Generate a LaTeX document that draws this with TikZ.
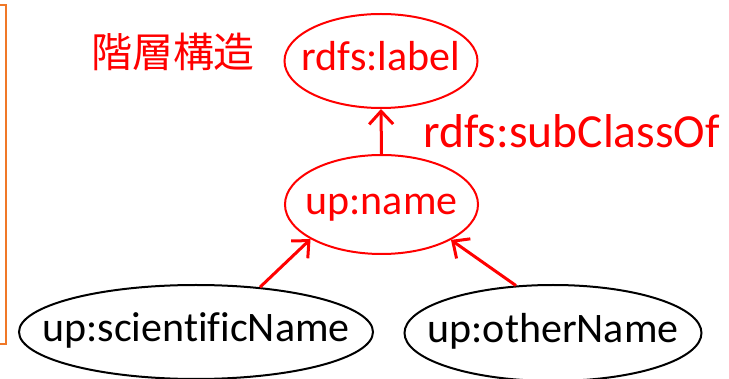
\documentclass[tikz,border=0pt]{standalone}
\usepackage{fontspec}
\setmainfont{Carlito}[Ligatures=NoCommon]
\newfontfamily\cjk{Noto Sans CJK JP}
\usetikzlibrary{shapes.geometric,arrows.meta}
\definecolor{myorange}{RGB}{240,120,40}
\begin{document}
\begin{tikzpicture}[x=1pt,y=-1pt,
  ell/.style={draw, ellipse, line width=2pt, inner sep=0pt},
  txt/.style={font=\fontsize{42}{48}\selectfont, text height=29pt, text depth=9pt, inner sep=0pt},
  arr/.style={draw=red, line width=3pt, -{Straight Barb[length=13pt,width=24pt]}}]
\useasboundingbox (0,0) rectangle (729,379);
\draw[myorange, line width=2pt] (-5,5) -- (5.5,5) -- (5.5,344) -- (-5,344);
\node[ell, draw=red, minimum width=193pt, minimum height=94pt, label={[txt,text=red]center:{rdfs:label}}] (label) at (381,61) {};
\node[ell, draw=red, minimum width=193pt, minimum height=99pt, label={[txt,text=red]center:{up:name}}] (name) at (381.5,204.5) {};
\node[ell, draw=black, minimum width=354pt, minimum height=94pt, label={[txt,text=black]center:{up:scientificName}}] (sci) at (196,332) {};
\node[ell, draw=black, minimum width=297pt, minimum height=96pt, label={[txt,text=black]center:{up:otherName}}] (other) at (553,333) {};
\draw[arr] (name.north) -- (label.south);
\draw[arr] (sci.35) -- (name.206);
\draw[arr] (other.128) -- (name.333);
\node[txt, text=red, font=\fontsize{47.5}{54}\selectfont, anchor=base west] (sub) at (423,148) {rdfs:subClassOf};
\node[text=red, font=\cjk\fontsize{41}{48}\selectfont, inner sep=0pt] (kaiso) at (173,52) {階層構造};
\end{tikzpicture}
\end{document}
